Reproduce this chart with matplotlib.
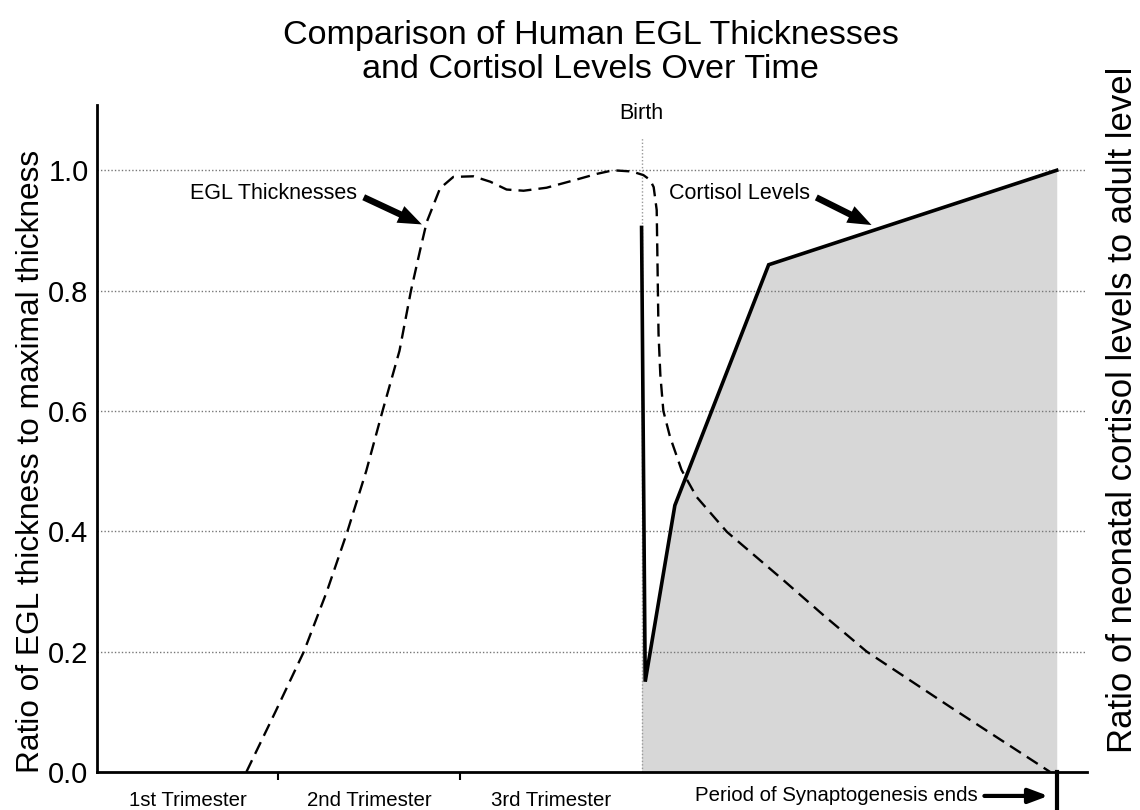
import numpy as np
import matplotlib
matplotlib.use("Agg")
import matplotlib.pyplot as plt
from matplotlib.transforms import blended_transform_factory

plt.rcParams['font.family'] = ['Liberation Sans', 'DejaVu Sans']

# time axis in months since conception (birth at 9)
egl_months = [2.47, 2.95, 3.42, 3.80, 4.14, 4.45, 4.72, 5.0, 5.19, 5.34, 5.45,
              5.67, 5.89, 6.22, 6.50, 6.77, 7.05, 7.43, 7.87, 8.26, 8.53, 8.84,
              9.03, 9.14, 9.20, 9.25, 9.26, 9.27, 9.28, 9.31, 9.36, 9.47, 9.66,
              9.91, 10.41, 11.34, 12.0, 12.72, 14.10, 15.75]
egl_ratio = [0.0, 0.1, 0.2, 0.3, 0.4, 0.5, 0.6, 0.7, 0.8, 0.867, 0.914,
             0.970, 0.989, 0.990, 0.981, 0.968, 0.966, 0.971, 0.983, 0.994,
             1.0, 0.998, 0.992, 0.984, 0.972, 0.934, 0.867, 0.798, 0.729,
             0.66, 0.60, 0.557, 0.502, 0.457, 0.399, 0.319, 0.261, 0.2, 0.108,
             0.0]

cort_months = [9.0, 9.06, 9.55, 11.1, 15.86]
cort_ratio = [0.905, 0.15, 0.443, 0.843, 1.0]

trimesters = ['1st Trimester', '2nd Trimester', '3rd Trimester']
trimester_edges = [3, 6]
trimester_mids = [1.5, 4.5, 7.5]
birth = 9.0
synapto_end = 15.86
yticks = [0.0, 0.2, 0.4, 0.6, 0.8, 1.0]

fig = plt.figure(figsize=(11.4, 8.1), dpi=100)
ax = fig.add_axes([0.085, 0.047, 0.8685, 0.823])

ax.fill_between(cort_months, 0, cort_ratio, color='#d7d7d7', lw=0, zorder=1)
for y in yticks[1:]:
    ax.axhline(y, color='#777777', ls=(0, (1, 1.5)), lw=1, zorder=2)
ax.plot([birth, birth], [0, 1.053], color='#999999', ls=(0, (1, 1.5)), lw=1, zorder=2)

ax.plot(egl_months, egl_ratio, color='black', lw=1.7, ls=(0, (5.5, 3)), zorder=3)
ax.plot(cort_months, cort_ratio, color='black', lw=2.6, zorder=4,
        solid_joinstyle='miter')

ax.set_xlim(0, 16.36)
ax.set_ylim(0, 1.108)

for s in ['top', 'right']:
    ax.spines[s].set_visible(False)
ax.spines['left'].set_linewidth(2)
ax.spines['bottom'].set_linewidth(2)

ax.set_yticks(yticks)
ax.set_yticklabels(['%.1f' % v for v in yticks], fontsize=21)
ax.tick_params(axis='y', length=0, pad=6)
ax.set_xticks(trimester_edges)
ax.set_xticklabels(['', ''])
ax.tick_params(axis='x', which='major', length=6, width=1.5, direction='out')
ax.set_xticks(trimester_mids, minor=True)
ax.set_xticklabels(trimesters, minor=True, fontsize=14.7)
ax.tick_params(axis='x', which='minor', length=0, pad=14)

fig.text(0.027, 0.43, 'Ratio of EGL thickness to maximal thickness',
         rotation=90, fontsize=22.8, ha='center', va='center')
fig.text(0.985, 0.494, 'Ratio of neonatal cortisol levels to adult level',
         rotation=90, fontsize=25, ha='center', va='center')

fig.text(0.518, 0.935, 'Comparison of Human EGL Thicknesses\nand Cortisol Levels Over Time',
         fontsize=24.6, ha='center', va='center', linespacing=1.1)

ax.text(birth, 1.095, 'Birth', ha='center', va='center', fontsize=15.5)

arrow = dict(arrowstyle='simple,head_length=1.1,head_width=0.85,tail_width=0.3',
             color='black', lw=0, shrinkA=3, shrinkB=0, relpos=(1, 0.45))
ax.annotate('EGL Thicknesses', xy=(5.37, 0.910), xytext=(4.30, 0.962),
            ha='right', va='center', fontsize=15.5, arrowprops=arrow)
ax.annotate('Cortisol Levels', xy=(12.80, 0.909), xytext=(9.45, 0.962),
            ha='left', va='center', fontsize=15.5, arrowprops=arrow)

# end of synaptogenesis marker below the axis
trans = blended_transform_factory(ax.transData, ax.transAxes)
ax.plot([synapto_end, synapto_end], [0, -0.06], color='black', lw=3,
        transform=trans, clip_on=False)
ax.annotate('Period of Synaptogenesis ends', xy=(15.72, -0.036),
            xytext=(14.55, -0.036), xycoords=trans, textcoords=trans,
            ha='right', va='center', fontsize=14.7,
            arrowprops=dict(arrowstyle='-|>,head_length=0.8,head_width=0.3',
                            color='black', lw=3, shrinkA=3, shrinkB=0))

fig.savefig('out.png', dpi=100)
